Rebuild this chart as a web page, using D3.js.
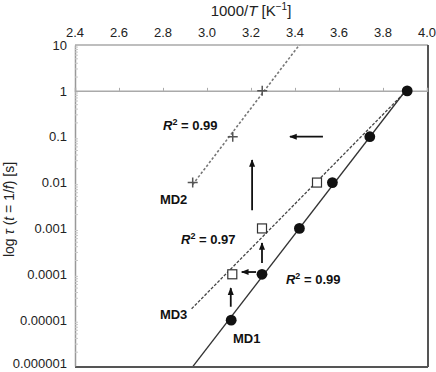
<!DOCTYPE html>
<html><head><meta charset="utf-8">
<script src="https://cdn.jsdelivr.net/npm/d3@7"></script>
<style>body{margin:0;background:#fff;}svg{display:block;font-family:"Liberation Sans",Arial,sans-serif;}</style>
</head><body>
<svg id="c" width="436" height="372"></svg>
<script>
// ---- data ----
const xTicks = [2.4, 2.6, 2.8, 3.0, 3.2, 3.4, 3.6, 3.8, 4.0];
const yTicks = [10, 1, 0.1, 0.01, 0.001, 0.0001, 0.00001, 0.000001];
const yTickLabels = ["10", "1", "0.1", "0.01", "0.001", "0.0001", "0.00001", "0.000001"];
const md1X = [3.11, 3.25, 3.42, 3.57, 3.74, 3.91];
const md1Y = [1e-5, 1e-4, 1e-3, 1e-2, 0.1, 1];
const md3X = [3.115, 3.25, 3.50, 3.91];
const md3Y = [1e-4, 1e-3, 1e-2, 1];
const md2X = [2.935, 3.117, 3.251];
const md2Y = [0.01, 0.1, 1];
const md1TrendX = [2.90, 3.91];
const md3TrendX = [2.93, 3.91];
const md2TrendX = [2.935, 3.45];
// arrows: [x1, y1, x2, y2] (tail -> head), data units
const arrows = [
  [3.527, 0.1, 3.377, 0.1],
  [3.205, 0.0025, 3.205, 0.031],
  [3.25, 0.000176, 3.25, 0.00048],
  [3.223, 0.000112, 3.158, 0.000112],
  [3.108, 0.0000196, 3.108, 0.00005]
];

const svg = d3.select("#c");
const L = 75, R = 427, T = 45, B = 366;
const x = d3.scaleLinear().domain([2.4, 4.0]).range([L, R]);
const y = d3.scaleLog().domain([0.000001, 10]).range([B, T]);

// defs
const defs = svg.append("defs");
defs.append("clipPath").attr("id", "clip").append("rect")
  .attr("x", L).attr("y", T).attr("width", R - L).attr("height", B - T);
defs.append("marker").attr("id", "ah").attr("viewBox", "0 0 10 10")
  .attr("refX", 9).attr("refY", 5).attr("markerWidth", 4.2).attr("markerHeight", 4.2)
  .attr("orient", "auto").attr("markerUnits", "strokeWidth")
  .append("path").attr("d", "M0,1 L10,5 L0,9 z").attr("fill", "#111");

// frame
svg.append("line").attr("x1", L).attr("x2", R + 1).attr("y1", T).attr("y2", T).attr("stroke", "#a8a8a8").attr("stroke-width", 1.5);
svg.append("line").attr("x1", R + 1).attr("x2", R + 1).attr("y1", T).attr("y2", B + 1).attr("stroke", "#555").attr("stroke-width", 2);
svg.append("line").attr("x1", L).attr("x2", R + 1).attr("y1", B + 1).attr("y2", B + 1).attr("stroke", "#555").attr("stroke-width", 2);

// left y axis
const yAxis = d3.axisLeft(y).tickValues(yTicks).tickSize(0).tickPadding(8)
  .tickFormat((d, i) => yTickLabels[i]);
const gy = svg.append("g").attr("transform", `translate(${L},0)`).call(yAxis);
gy.select(".domain").attr("stroke", "#999").attr("stroke-width", 1.5);
gy.selectAll("text").attr("font-size", 13).attr("fill", "#222");
gy.selectAll(".tick text").filter(d => d === yTicks[yTicks.length - 1]).attr("dy", "0.12em");
// minor ticks inside
const minor = [];
for (let e = -6; e < 1; e++) for (let k = 2; k <= 9; k++) minor.push(k * Math.pow(10, e));
gy.selectAll(".mt").data(minor).join("line").attr("class", "mt")
  .attr("x1", 0).attr("x2", 3).attr("y1", d => y(d)).attr("y2", d => y(d))
  .attr("stroke", "#c8c8c8").attr("stroke-width", 1);

// x axis line at y = 1 with ticks
const xAxis = d3.axisTop(x).tickValues(xTicks.slice(1, -1)).tickSize(3).tickFormat("");
const gx = svg.append("g").attr("transform", `translate(0,${y(1)})`).call(xAxis);
gx.select(".domain").attr("stroke", "#aaa").attr("stroke-width", 1.5);
gx.selectAll(".tick line").attr("stroke", "#aaa");

// top tick labels
svg.append("g").selectAll("text").data(xTicks).join("text")
  .attr("x", d => x(d)).attr("y", 37).attr("text-anchor", "middle")
  .attr("font-size", 13).attr("fill", "#222").text(d => d.toFixed(1));

// axis titles
const tx = svg.append("text").attr("x", (L + R) / 2).attr("y", 16).attr("text-anchor", "middle")
  .attr("font-size", 15).attr("fill", "#222");
tx.append("tspan").text("1000/");
tx.append("tspan").attr("font-style", "italic").text("T");
tx.append("tspan").text(" [K");
tx.append("tspan").attr("font-size", 10).attr("dy", -6).text("\u22121");
tx.append("tspan").attr("dy", 6).text("]");

const ty = svg.append("text").attr("transform", `translate(14,${(T + B) / 2 + 4}) rotate(-90)`)
  .attr("text-anchor", "middle").attr("font-size", 14).attr("fill", "#222");
ty.append("tspan").text("log ");
ty.append("tspan").attr("font-style", "italic").text("\u03c4");
ty.append("tspan").text(" (");
ty.append("tspan").attr("font-style", "italic").text("t");
ty.append("tspan").text(" = 1/");
ty.append("tspan").attr("font-style", "italic").text("f");
ty.append("tspan").text(") [s]");

// regression in log space
function fit(xs, ys) {
  const ly = ys.map(v => Math.log10(v));
  const mx = d3.mean(xs), my = d3.mean(ly);
  const sxy = d3.sum(xs, (v, i) => (v - mx) * (ly[i] - my));
  const sxx = d3.sum(xs, v => (v - mx) * (v - mx));
  const m = sxy / sxx;
  return xv => Math.pow(10, my + m * (xv - mx));
}
const plot = svg.append("g").attr("clip-path", "url(#clip)");
function trend(xs, ys, ext, stroke, dash, w) {
  const f = fit(xs, ys);
  plot.append("line").attr("x1", x(ext[0])).attr("y1", y(f(ext[0])))
    .attr("x2", x(ext[1])).attr("y2", y(f(ext[1])))
    .attr("stroke", stroke).attr("stroke-width", w).attr("stroke-dasharray", dash);
}
trend(md2X, md2Y, md2TrendX, "#777", "2.5,2", 1.6);
trend(md3X, md3Y, md3TrendX, "#444", "3,1.6", 1.3);
trend(md1X, md1Y, md1TrendX, "#333", null, 1.3);

// markers
const md2 = md2X.map((v, i) => [v, md2Y[i]]);
svg.append("g").selectAll("path").data(md2).join("path")
  .attr("d", d => `M${x(d[0]) - 5},${y(d[1])}h10M${x(d[0])},${y(d[1]) - 5}v10`)
  .attr("stroke", "#555").attr("stroke-width", 1.5);
// MD3 squares (a point that coincides with an MD1 point is hidden beneath it)
const md3 = md3X.map((v, i) => [v, md3Y[i]])
  .filter(d => !md1X.some((v, j) => v === d[0] && md1Y[j] === d[1]));
svg.append("g").selectAll("rect").data(md3).join("rect")
  .attr("x", d => x(d[0]) - 4.5).attr("y", d => y(d[1]) - 4.5)
  .attr("width", 9).attr("height", 9).attr("fill", "#fff").attr("stroke", "#333").attr("stroke-width", 1.2);
const md1 = md1X.map((v, i) => [v, md1Y[i]]);
svg.append("g").selectAll("circle").data(md1).join("circle")
  .attr("cx", d => x(d[0])).attr("cy", d => y(d[1])).attr("r", 5.4).attr("fill", "#111");

// arrows
svg.append("g").selectAll("line").data(arrows).join("line")
  .attr("x1", d => x(d[0])).attr("y1", d => y(d[1]))
  .attr("x2", d => x(d[2])).attr("y2", d => y(d[3]))
  .attr("stroke", "#111").attr("stroke-width", 1.8).attr("marker-end", "url(#ah)");

// labels
function rlabel(xv, yv, val) {
  const t = svg.append("text").attr("x", x(xv)).attr("y", y(yv))
    .attr("font-size", 13).attr("font-weight", "bold").attr("fill", "#111");
  t.append("tspan").attr("font-style", "italic").text("R");
  t.append("tspan").attr("font-size", 9).attr("dy", -5).text("2");
  t.append("tspan").attr("dy", 5).text(" = " + val);
}
function mlabel(xv, yv, s) {
  svg.append("text").attr("x", x(xv)).attr("y", y(yv))
    .attr("font-size", 13).attr("font-weight", "bold").attr("fill", "#111").text(s);
}
rlabel(2.80, 0.14, "0.99");
rlabel(2.882, 0.00046, "0.97");
rlabel(3.359, 0.000061, "0.99");
mlabel(2.786, 0.0034, "MD2");
mlabel(2.786, 0.0000106, "MD3");
mlabel(3.118, 0.0000032, "MD1");
</script>
</body></html>
